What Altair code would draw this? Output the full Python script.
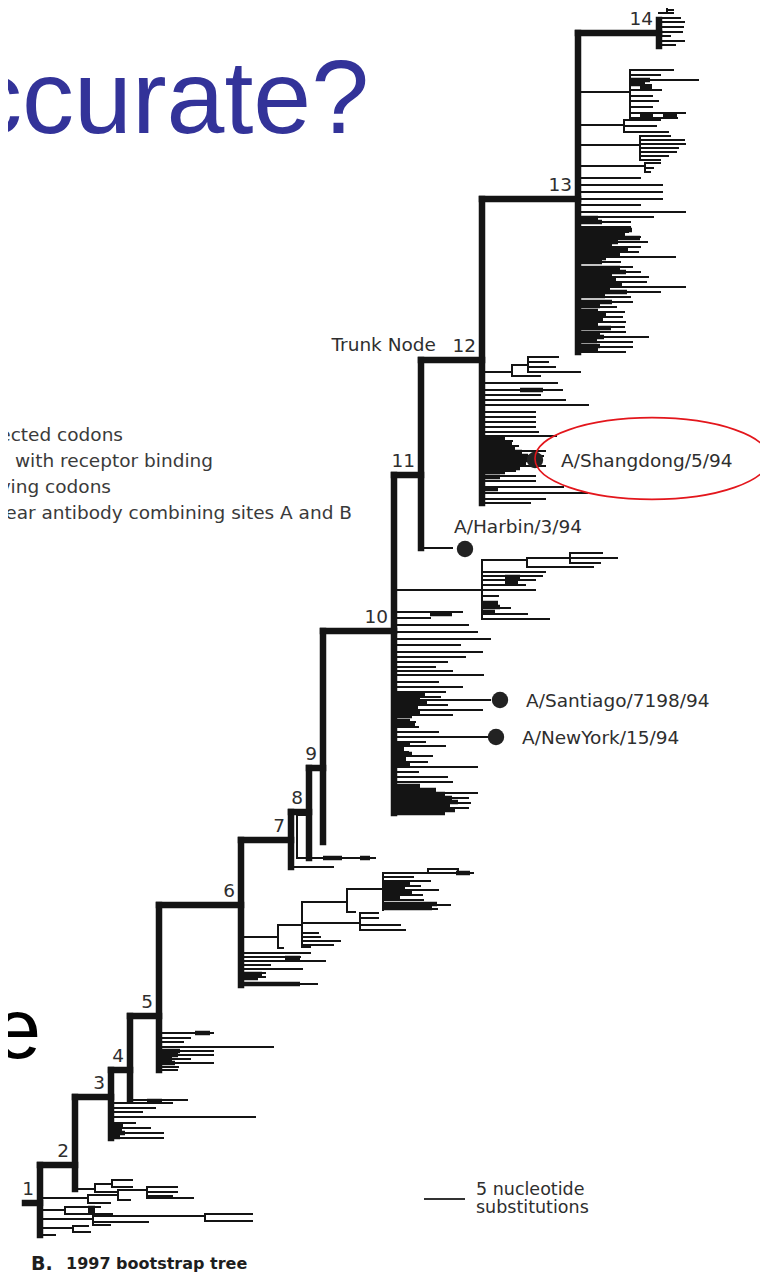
import altair as alt
import pandas as pd

# ---------------- trunk of the 1997 bootstrap tree (nodes 1..14) ----------------
node_num = ["1", "2", "3", "4", "5", "6", "7", "8", "9", "10", "11", "12", "13", "14"]
node_x   = [40, 75, 111, 130, 159, 241, 291, 309, 323, 394, 421, 482, 578, 659]
node_top = [1165, 1097, 1070, 1016, 905, 840, 812, 768, 631, 475, 360, 199, 33, 20]
node_bot = [1235, 1189, 1138, 1100, 1070, 985, 867, 858, 842, 813, 548, 503, 352, 46]
root_x, root_y = 25, 1203

# ---------------- side branches: (row, from divergence, to divergence) ----------------
clade14_h = [(13, 659, 673), (18, 659, 680), (22, 659, 684), (27, 659, 683), (32, 659, 682),
             (36, 659, 670), (41, 659, 684), (45, 659, 675), (7, 667, 698), (10, 667, 673)]
clade14_v = [(667, 7, 13)]

clade13_h = [(92, 578, 630), (70, 630, 673), (75, 630, 660), (80, 630, 698), (85, 630, 651),
             (90, 630, 661), (96, 630, 652), (101, 630, 658), (107, 630, 652), (113, 630, 685),
             (118, 630, 677), (125, 578, 624), (120, 624, 660), (126, 624, 656), (132, 624, 668),
             (145, 578, 640), (136, 640, 670), (140, 640, 684), (144, 640, 685), (148, 640, 678),
             (152, 640, 676), (156, 640, 668), (160, 640, 660), (166, 578, 645), (163, 645, 660),
             (168, 645, 653), (172, 645, 650), (178, 578, 640), (185, 578, 662), (192, 578, 662),
             (199, 578, 662), (205, 578, 640), (212, 578, 685), (217, 578, 653), (222, 578, 630),
             (227, 578, 630), (232, 578, 628), (237, 578, 640), (242, 578, 647), (247, 578, 640),
             (252, 578, 638), (257, 578, 675), (262, 578, 620), (267, 578, 632), (272, 578, 640),
             (277, 578, 648), (282, 578, 646), (287, 578, 685), (292, 578, 660), (297, 578, 630),
             (302, 578, 632), (307, 578, 616), (312, 578, 624), (317, 578, 622), (322, 578, 625),
             (327, 578, 624), (332, 578, 625), (337, 578, 648), (342, 578, 632), (347, 578, 632),
             (352, 578, 625)]
clade13_v = [(630, 70, 118), (624, 120, 132), (640, 136, 160), (645, 163, 172)]
clade13_dense = [(80, 630, 650), (84, 630, 645), (88, 640, 652), (115, 640, 653), (115, 663, 677),
                 (218, 578, 598), (222, 578, 602), (230, 578, 632), (234, 578, 625), (238, 578, 640),
                 (242, 578, 618), (246, 578, 612), (250, 578, 628), (254, 578, 620), (258, 578, 606),
                 (262, 578, 602), (268, 578, 620), (272, 578, 626), (276, 578, 612), (280, 578, 616),
                 (284, 578, 622), (288, 578, 610), (292, 578, 627), (296, 578, 605), (302, 578, 612),
                 (306, 578, 600), (311, 578, 598), (315, 578, 606), (320, 578, 603), (324, 578, 598),
                 (328, 578, 611), (333, 578, 600), (337, 578, 604), (341, 578, 597), (346, 578, 600),
                 (350, 578, 598)]

clade12_h = [(372, 482, 512), (365, 512, 528), (376, 512, 540), (357, 528, 558), (362, 528, 548),
             (367, 528, 555), (372, 528, 580), (383, 482, 557), (390, 482, 562), (395, 482, 540),
             (400, 482, 565), (405, 482, 588), (412, 482, 535), (417, 482, 535), (422, 482, 535),
             (427, 482, 535), (432, 482, 538), (436, 482, 556), (441, 482, 512), (446, 482, 518),
             (451, 482, 545), (456, 482, 543), (461, 482, 533), (466, 482, 545), (471, 482, 515),
             (476, 482, 535), (481, 482, 535), (487, 482, 563), (493, 482, 587), (499, 482, 545),
             (503, 482, 530)]
clade12_v = [(512, 365, 376), (528, 357, 372)]
clade12_dense = [(390, 520, 543), (438, 482, 505), (443, 482, 512), (448, 482, 515), (452, 482, 522),
                 (456, 482, 528), (460, 482, 530), (464, 482, 526), (468, 482, 520), (472, 482, 505),
                 (477, 482, 500), (489, 482, 498)]

clade11_h = [(548, 421, 452)]

clade10_h = [(590, 394, 482), (560, 482, 527), (558, 527, 570), (553, 570, 602), (558, 570, 617),
             (563, 570, 600), (567, 527, 593), (572, 482, 545), (576, 482, 542), (580, 482, 535),
             (585, 482, 525), (590, 482, 535), (596, 482, 498), (603, 482, 497), (608, 482, 510),
             (614, 482, 527), (619, 482, 549), (612, 394, 462), (618, 394, 430), (625, 394, 468),
             (632, 394, 477), (639, 394, 490), (645, 394, 460), (652, 394, 482), (657, 394, 465),
             (662, 394, 447), (667, 394, 435), (671, 394, 452), (675, 394, 483), (682, 394, 438),
             (687, 394, 462), (692, 394, 445), (697, 394, 440), (700, 394, 490), (705, 394, 447),
             (710, 394, 482), (715, 394, 452), (722, 394, 415), (727, 394, 418), (732, 394, 438),
             (737, 394, 487), (742, 394, 425), (746, 394, 445), (752, 394, 408), (756, 394, 432),
             (762, 394, 427), (767, 394, 477), (772, 394, 418), (777, 394, 447), (782, 394, 452),
             (788, 394, 417), (793, 394, 477), (798, 394, 468), (803, 394, 470), (808, 394, 468),
             (812, 394, 440)]
clade10_v = [(482, 560, 619), (527, 558, 567), (570, 553, 563)]
clade10_dense = [(603, 482, 498), (607, 482, 500), (612, 482, 495), (577, 505, 520), (583, 505, 518),
                 (614, 430, 452), (694, 394, 425), (698, 394, 420), (703, 394, 427), (707, 394, 418),
                 (712, 394, 420), (716, 394, 412), (721, 394, 410), (725, 394, 415), (744, 394, 410),
                 (749, 394, 404), (754, 394, 412), (759, 394, 406), (764, 394, 410), (786, 394, 420),
                 (790, 394, 436), (794, 394, 445), (798, 394, 452), (802, 394, 458), (806, 394, 450),
                 (810, 394, 455), (813, 394, 445)]

clade9_h = [(815, 297, 309), (858, 297, 375), (867, 291, 333)]
clade9_v = [(297, 815, 858)]
clade9_dense = [(858, 323, 342), (858, 360, 370)]

clade6_h = [(937, 241, 278), (925, 278, 302), (902, 302, 347), (889, 347, 383), (873, 383, 473),
            (869, 428, 458), (877, 383, 413), (881, 383, 430), (886, 383, 420), (890, 383, 438),
            (895, 383, 422), (900, 383, 423), (905, 383, 450), (909, 383, 437), (912, 347, 355),
            (923, 302, 360), (913, 360, 378), (918, 360, 378), (925, 360, 400), (930, 360, 405),
            (933, 302, 318), (937, 302, 320), (941, 302, 340), (945, 302, 333), (947, 302, 310),
            (948, 278, 283), (953, 241, 310), (957, 241, 300), (961, 241, 325), (965, 241, 270),
            (969, 241, 302), (973, 241, 265), (977, 241, 265), (984, 241, 317)]
clade6_v = [(278, 925, 948), (302, 902, 947), (347, 889, 912), (383, 873, 910), (360, 913, 930),
            (428, 869, 873), (458, 869, 873)]
clade6_dense = [(884, 383, 410), (888, 383, 405), (893, 383, 412), (897, 383, 400), (904, 383, 437),
                (908, 383, 432), (958, 285, 300), (974, 241, 262), (978, 241, 258), (873, 456, 470),
                (984, 241, 300)]

clade5_h = [(1033, 159, 213), (1038, 159, 190), (1042, 159, 183), (1047, 159, 273), (1051, 159, 213),
            (1055, 159, 213), (1059, 159, 190), (1063, 159, 213), (1067, 159, 178), (1070, 159, 177)]
clade5_dense = [(1051, 159, 180), (1055, 159, 178), (1059, 159, 172), (1063, 159, 175), (1033, 195, 210)]

clade4_h = [(1100, 130, 187)]
clade4_dense = [(1101, 147, 162)]

clade3_h = [(1103, 111, 172), (1108, 111, 155), (1112, 111, 142), (1117, 111, 255), (1123, 111, 135),
            (1128, 111, 150), (1133, 111, 163), (1138, 111, 163)]
clade3_dense = [(1125, 111, 123), (1129, 111, 122), (1133, 111, 125), (1137, 111, 120)]

clade2_h = [(1189, 75, 95), (1184, 95, 112), (1192, 95, 118), (1180, 112, 132), (1187, 112, 132)]
clade2_v = [(95, 1184, 1192), (112, 1180, 1187)]

clade1_h = [(1198, 40, 88), (1195, 88, 118), (1203, 88, 110), (1190, 118, 147), (1200, 118, 130),
            (1187, 147, 177), (1192, 147, 177), (1196, 147, 172), (1198, 147, 193), (1210, 40, 65),
            (1207, 65, 100), (1214, 65, 112), (1219, 40, 93), (1216, 93, 205), (1222, 93, 148),
            (1225, 93, 110), (1214, 205, 252), (1221, 205, 252), (1228, 40, 73), (1226, 73, 88),
            (1232, 73, 90), (1235, 40, 55)]
clade1_v = [(88, 1195, 1203), (118, 1190, 1200), (147, 1187, 1198), (65, 1207, 1214), (93, 1216, 1225),
            (205, 1214, 1221), (73, 1226, 1232)]
clade1_dense = [(1208, 88, 95), (1212, 88, 95)]

# ---------------- highlighted strains ----------------
strain_name = ["A/Shangdong/5/94", "A/Santiago/7198/94", "A/NewYork/15/94", "A/Harbin/3/94"]
strain_x    = [535, 500, 496, 465]
strain_y    = [460, 700, 737, 549]

# scale bar: 5 nucleotide substitutions
scale_x, scale_y, scale_len = 424, 1199, 41

# ---------------- build tables ----------------
all_h = (clade14_h + clade13_h + clade12_h + clade11_h + clade10_h + clade9_h + clade6_h
         + clade5_h + clade4_h + clade3_h + clade2_h + clade1_h)
all_v = clade14_v + clade13_v + clade12_v + clade10_v + clade9_v + clade6_v + clade2_v + clade1_v
all_dense = (clade13_dense + clade12_dense + clade10_dense + clade9_dense + clade6_dense
             + clade5_dense + clade4_dense + clade3_dense + clade1_dense)

stem_y = [root_y] + node_top[:-1]
stem_from = [root_x] + node_x[:-1]

trunk_rows = []
for i in range(len(node_x)):
    trunk_rows.append(dict(x=stem_from[i], x2=node_x[i], y=stem_y[i], y2=stem_y[i]))
    trunk_rows.append(dict(x=node_x[i], x2=node_x[i], y=node_top[i], y2=node_bot[i]))
trunk_df = pd.DataFrame(trunk_rows)

thin_rows = [dict(x=a, x2=b, y=r, y2=r) for (r, a, b) in all_h]
thin_rows += [dict(x=c, x2=c, y=t, y2=b) for (c, t, b) in all_v]
thin_df = pd.DataFrame(thin_rows)

dense_df = pd.DataFrame([dict(x=a, x2=b, y=r) for (r, a, b) in all_dense])

node_lab_df = pd.DataFrame(dict(x=node_x, y=stem_y, t=node_num))
strain_df = pd.DataFrame(dict(x=strain_x, y=strain_y, t=strain_name))

xs = alt.Scale(domain=[8, 760], nice=False, zero=False)
ys = alt.Scale(domain=[8, 1277], nice=False, zero=False, reverse=True)


def X(f="x"):
    return alt.X(f"{f}:Q", scale=xs, axis=None)


def Y(f="y"):
    return alt.Y(f"{f}:Q", scale=ys, axis=None)


INK = "#141414"
TXT = "#2e2e2e"
FONT = "DejaVu Sans"

dense = alt.Chart(dense_df).mark_rule(color=INK, strokeWidth=4.5).encode(x=X(), x2="x2:Q", y=Y())
thin = alt.Chart(thin_df).mark_rule(color=INK, strokeWidth=2, strokeCap="square").encode(
    x=X(), x2="x2:Q", y=Y(), y2="y2:Q")
trunk = alt.Chart(trunk_df).mark_rule(color=INK, strokeWidth=6.5, strokeCap="square").encode(
    x=X(), x2="x2:Q", y=Y(), y2="y2:Q")

dots = alt.Chart(strain_df).mark_point(filled=True, color="#222222", size=270, opacity=1).encode(
    x=X(), y=Y())

ellipse_path = ("M -1 0 C -1 -0.1928 -0.5523 -0.349 0 -0.349 C 0.5523 -0.349 1 -0.1928 1 0 "
                "C 1 0.1928 0.5523 0.349 0 0.349 C -0.5523 0.349 -1 0.1928 -1 0 Z")
ellipse = alt.Chart(strain_df.iloc[[0]]).mark_point(
    shape=ellipse_path, filled=False, stroke="#e3161c", strokeWidth=1.6, size=54756, opacity=1
).encode(x=X(), y=Y()).transform_calculate(x="datum.x + 117", y="datum.y - 1.5")

node_labels = alt.Chart(node_lab_df).mark_text(
    align="right", baseline="alphabetic", dx=-6, dy=-8, font=FONT, fontSize=18.5, color=TXT
).encode(x=X(), y=Y(), text="t:N")

strain_labels = alt.Chart(strain_df.iloc[0:3]).mark_text(
    align="left", baseline="alphabetic", dx=26, dy=7, font=FONT, fontSize=18.5, color=TXT
).encode(x=X(), y=Y(), text="t:N")
harbin_label = alt.Chart(strain_df.iloc[[3]]).mark_text(
    align="left", baseline="alphabetic", dx=-11, dy=-16, font=FONT, fontSize=18.5, color=TXT
).encode(x=X(), y=Y(), text="t:N")

trunk_word = alt.Chart(pd.DataFrame(dict(x=[node_x[11]], y=[stem_y[11]], t=["Trunk Node"]))).mark_text(
    align="right", baseline="alphabetic", dx=-46, dy=-9, font=FONT, fontSize=18.5, color=TXT
).encode(x=X(), y=Y(), text="t:N")

legend_text = ["ected codons", "d with receptor binding", "ving codons",
               "ear antibody combining sites A and B"]
legend_df = pd.DataFrame(dict(x=[123, 213, 111, 352], y=[441, 467, 493, 519], t=legend_text))
legend = alt.Chart(legend_df).mark_text(
    align="right", baseline="alphabetic", font=FONT, fontSize=18.5, color="#3a3a3a"
).encode(x=X(), y=Y(), text="t:N")

bar_df = pd.DataFrame(dict(x=[scale_x], x2=[scale_x + scale_len], y=[scale_y]))
bar = alt.Chart(bar_df).mark_rule(color="#333333", strokeWidth=2).encode(x=X(), x2="x2:Q", y=Y())
bar_text = alt.Chart(pd.DataFrame(dict(x=[scale_x + 52, scale_x + 52], y=[scale_y - 4, scale_y + 14],
                                       t=["5 nucleotide", "substitutions"]))).mark_text(
    align="left", baseline="alphabetic", font=FONT, fontSize=17.5, color=TXT
).encode(x=X(), y=Y(), text="t:N")

title_big = alt.Chart(pd.DataFrame(dict(x=[369], y=[133], t=["ccurate?"]))).mark_text(
    align="right", baseline="alphabetic", font="Liberation Sans", fontSize=104, color="#333399"
).encode(x=X(), y=Y(), text="t:N")
e_big = alt.Chart(pd.DataFrame(dict(x=[41], y=[1058], t=["e"]))).mark_text(
    align="right", baseline="alphabetic", font="Liberation Sans", fontSize=86, color="#000000"
).encode(x=X(), y=Y(), text="t:N")

cap_b = alt.Chart(pd.DataFrame(dict(x=[31], y=[1270], t=["B."]))).mark_text(
    align="left", baseline="alphabetic", font=FONT, fontSize=19, fontWeight="bold", color="#1e1e1e"
).encode(x=X(), y=Y(), text="t:N")
cap_t = alt.Chart(pd.DataFrame(dict(x=[66], y=[1269], t=["1997 bootstrap tree"]))).mark_text(
    align="left", baseline="alphabetic", font=FONT, fontSize=16, fontWeight="bold", color="#1e1e1e"
).encode(x=X(), y=Y(), text="t:N")

chart = alt.layer(
    dense, thin, trunk, dots, ellipse, node_labels, strain_labels, harbin_label, trunk_word,
    legend, bar, bar_text, title_big, e_big, cap_b, cap_t
).properties(
    width=752, height=1269, padding=0, autosize=alt.AutoSizeParams(type="none")
).configure_view(strokeWidth=0)

chart.save("out.html", embed_options={"renderer": "svg", "actions": False})
